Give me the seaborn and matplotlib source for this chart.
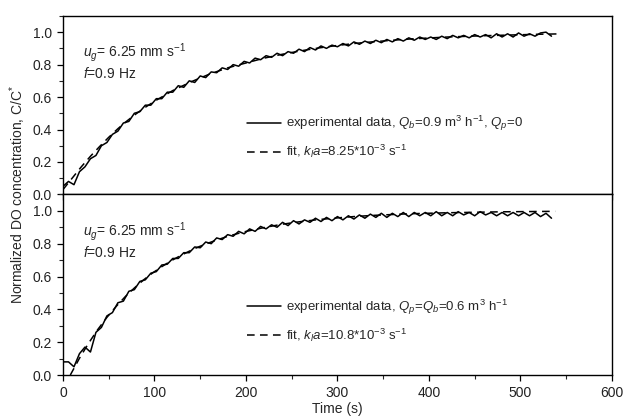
import matplotlib
matplotlib.use('Agg')
import matplotlib.pyplot as plt
from matplotlib.ticker import MultipleLocator
import numpy as np
import seaborn as sns

# sampling step of the measured curves (s)
step = 6

# top panel: Qb = 0.9 m3/h, Qp = 0
top_exp = [0.05, 0.08, 0.06, 0.14, 0.17, 0.22, 0.24, 0.30, 0.32, 0.37,
           0.39, 0.44, 0.45, 0.50, 0.51, 0.55, 0.55, 0.59, 0.59, 0.63,
           0.63, 0.67, 0.66, 0.70, 0.69, 0.73, 0.72, 0.755, 0.75, 0.78,
           0.77, 0.80, 0.79, 0.82, 0.81, 0.84, 0.83, 0.855, 0.845, 0.87,
           0.855, 0.88, 0.87, 0.895, 0.88, 0.905, 0.89, 0.915, 0.90, 0.92,
           0.91, 0.93, 0.915, 0.94, 0.925, 0.945, 0.93, 0.95, 0.935, 0.955,
           0.94, 0.96, 0.945, 0.965, 0.95, 0.97, 0.955, 0.97, 0.955, 0.975,
           0.96, 0.98, 0.965, 0.98, 0.965, 0.985, 0.97, 0.985, 0.965, 0.99,
           0.97, 0.99, 0.97, 0.995, 0.975, 0.99, 0.975, 0.995, 1.0, 0.975]
top_fit_t = [0, 10, 20, 30, 40, 50, 60, 70, 80, 90, 100, 120, 140, 160, 180,
             200, 220, 240, 260, 280, 300, 320, 340, 360, 380, 400, 420, 440,
             460, 480, 500, 520, 540]
top_fit = [0.03, 0.10, 0.17, 0.235, 0.295, 0.352, 0.405, 0.453, 0.497,
           0.537, 0.574, 0.640, 0.694, 0.741, 0.780, 0.810, 0.840, 0.864,
           0.885, 0.903, 0.918, 0.931, 0.941, 0.950, 0.958, 0.964, 0.970,
           0.974, 0.978, 0.981, 0.984, 0.987, 0.989]

# bottom panel: Qp = Qb = 0.6 m3/h
bot_exp = [0.08, 0.08, 0.05, 0.13, 0.17, 0.14, 0.26, 0.29, 0.36, 0.38,
           0.44, 0.45, 0.51, 0.52, 0.57, 0.58, 0.62, 0.63, 0.67, 0.675,
           0.71, 0.71, 0.745, 0.745, 0.78, 0.775, 0.81, 0.80, 0.835, 0.825,
           0.855, 0.845, 0.875, 0.86, 0.89, 0.875, 0.905, 0.89, 0.915, 0.90,
           0.93, 0.91, 0.94, 0.92, 0.945, 0.93, 0.955, 0.935, 0.96, 0.94,
           0.965, 0.945, 0.97, 0.95, 0.975, 0.955, 0.98, 0.96, 0.985, 0.96,
           0.985, 0.965, 0.99, 0.965, 0.99, 0.97, 0.99, 0.97, 0.995, 0.97,
           0.99, 0.97, 0.995, 0.975, 0.99, 0.97, 0.995, 0.975, 0.99, 0.97,
           0.99, 0.97, 0.99, 0.97, 0.99, 0.97, 0.99, 0.965, 0.985, 0.955]
bot_fit_t = [8, 18, 28, 38, 48, 58, 68, 78, 88, 98, 108, 118, 128, 138, 148,
             158, 168, 178, 188, 198, 218, 238, 258, 278, 298, 318, 338, 358,
             378, 398, 418, 438, 458, 478, 498, 518, 538]
bot_fit = [0.0, 0.102, 0.194, 0.277, 0.351, 0.417, 0.477, 0.530, 0.579,
           0.622, 0.660, 0.695, 0.726, 0.754, 0.780, 0.802, 0.822, 0.841,
           0.857, 0.872, 0.896, 0.917, 0.933, 0.946, 0.956, 0.965, 0.972,
           0.977, 0.982, 0.985, 0.988, 0.990, 0.992, 0.994, 0.995, 0.996,
           0.997]

panels = [
    (top_exp, top_fit_t, top_fit,
     r"experimental data, $Q_b$=0.9 m$^3$ h$^{-1}$, $Q_p$=0",
     r"fit, $k_la$=8.25*10$^{-3}$ s$^{-1}$", 0.45),
    (bot_exp, bot_fit_t, bot_fit,
     r"experimental data, $Q_p$=$Q_b$=0.6 m$^3$ h$^{-1}$",
     r"fit, $k_la$=10.8*10$^{-3}$ s$^{-1}$", 0.43),
]

sns.set_style('ticks')
plt.rcParams['font.family'] = ['Liberation Sans', 'DejaVu Sans']
plt.rcParams['mathtext.fontset'] = 'custom'
plt.rcParams['mathtext.rm'] = 'Liberation Sans'
plt.rcParams['mathtext.it'] = 'Liberation Sans:italic'
plt.rcParams['mathtext.bf'] = 'Liberation Sans:bold'

fig = plt.figure(figsize=(6.25, 4.19), dpi=100)
left, right, bottom, top, mid = 0.1008, 0.979, 0.105, 0.962, 0.536
ax_top = fig.add_axes([left, mid, right - left, top - mid])
ax_bot = fig.add_axes([left, bottom, right - left, mid - bottom], sharex=ax_top)

for ax, (exp, fit_t, fit, lab_exp, lab_fit, leg_y) in zip([ax_top, ax_bot], panels):
    t_exp = np.arange(len(exp)) * step
    sns.lineplot(x=t_exp, y=exp, color='black', lw=1.1, ax=ax, label=lab_exp)
    sns.lineplot(x=fit_t, y=fit, color='black', lw=1.1, ax=ax, label=lab_fit)
    ax.lines[-1].set_dashes([5, 3.5])

    ax.set_xlim(0, 600)
    ax.set_ylim(0, 1.1)
    ax.xaxis.set_major_locator(MultipleLocator(100))
    ax.xaxis.set_minor_locator(MultipleLocator(50))
    ax.yaxis.set_minor_locator(MultipleLocator(0.1))
    ax.set_yticks(np.arange(0, 1.01, 0.2))
    ax.yaxis.set_major_formatter(matplotlib.ticker.FormatStrFormatter('%.1f'))
    ax.tick_params(which='major', direction='out', length=4.5, width=0.9,
                   labelsize=10, color='black', labelcolor='#222222')
    ax.tick_params(which='minor', direction='out', length=2.8, width=0.8)
    ax.tick_params(top=False, right=False)
    for sp in ax.spines.values():
        sp.set_visible(True)
        sp.set_linewidth(1.0)
        sp.set_color('black')
    ax.set_xlabel('')
    ax.set_ylabel('')

    ax.text(22, 0.875, r"$u_g$= 6.25 mm s$^{-1}$", fontsize=10, va='center')
    ax.text(22, 0.745, r"$f$=0.9 Hz", fontsize=10, va='center')

    ax.legend(loc='upper left', bbox_to_anchor=(0.335, leg_y), frameon=False,
              fontsize=9.5, handlelength=2.6, handletextpad=0.35,
              borderpad=0, borderaxespad=0, labelspacing=0.75)

plt.setp(ax_top.get_xticklabels(), visible=False)
ax_bot.set_xlabel('Time (s)', fontsize=10, labelpad=1)
fig.text(0.028, mid, 'Normalized DO concentration, C/C$^{*}$', rotation=90,
         ha='center', va='center', fontsize=10)

fig.savefig('out.png', dpi=100)
